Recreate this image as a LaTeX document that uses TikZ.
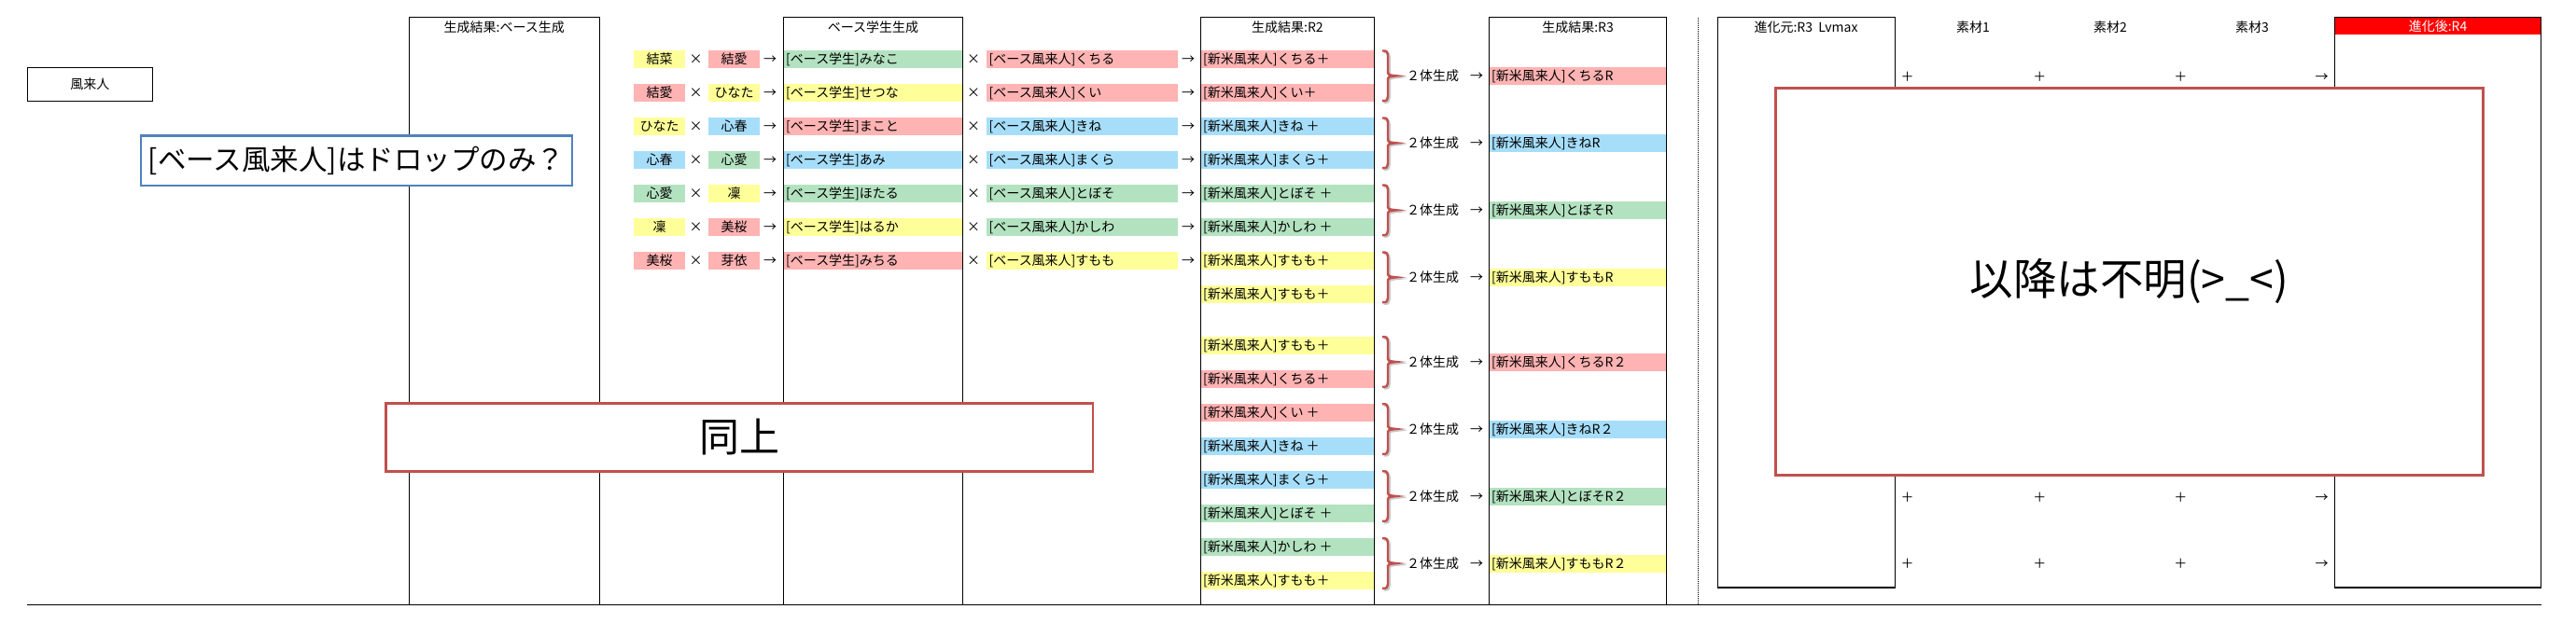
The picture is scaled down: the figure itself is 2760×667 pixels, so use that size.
\documentclass[tikz,border=0pt]{standalone}
\usepackage{fontspec}
\setmainfont{Noto Sans CJK JP}
\definecolor{cY}{HTML}{FFFF99}
\definecolor{cP}{HTML}{FFB3B3}
\definecolor{cB}{HTML}{A6DEFA}
\definecolor{cG}{HTML}{B3E2C0}
\definecolor{accR}{HTML}{C0504D}
\definecolor{accB}{HTML}{4F81BD}
\begin{document}
\begin{tikzpicture}[x=1pt,y=-1pt,
  txt/.style={font=\fontsize{14}{16}\selectfont, inner sep=0pt, text height=12.3pt, text depth=1.7pt},
  wtxt/.style={txt, text=white},
  barbox/.style={minimum height=19pt, inner sep=0pt, draw=none, anchor=west},
  sbox/.style={minimum height=19pt, minimum width=55pt, inner sep=0pt, draw=none},
  colbox/.style={draw=black, line width=1.1pt},
  bigbox/.style={line width=2.5pt, fill=white, inner sep=0pt},
]
\useasboundingbox (0,0) rectangle (2760,667);

% ---------- left label
\node[draw=black, line width=1.1pt, minimum width=133.9pt, minimum height=36pt, txt] (fr) at (96.45,90.3) {風来人};

% ---------- rows of the first part
\foreach \i/\ca/\ta/\cb/\tb/\cs/\ts/\cf/\tf in {
 0/Y/結菜/P/結愛/G/みなこ/P/くちる,
 1/P/結愛/Y/ひなた/Y/せつな/P/くい,
 2/Y/ひなた/B/心春/P/まこと/B/きね,
 3/B/心春/G/心愛/B/あみ/B/まくら,
 4/G/心愛/Y/凜/G/ほたる/G/とぼそ,
 5/Y/凜/P/美桜/Y/はるか/G/かしわ,
 6/P/美桜/P/芽依/P/みちる/Y/すもも}{
  \pgfmathsetmacro\yy{63.3+36*\i}
  \node[sbox, fill=c\ca] (a\i) at (706.5,\yy) {};
  \node[txt] (at\i) at (a\i) {\ta};
  \node[txt] (xa\i) at (745.7,\yy) {×};
  \node[sbox, fill=c\cb] (b\i) at (786.5,\yy) {};
  \node[txt] (bt\i) at (b\i) {\tb};
  \node[txt] (ra\i) at (825,\yy) {→};
  \node[barbox, fill=c\cs, minimum width=192pt] (s\i) at (839.5,\yy) {};
  \node[txt, anchor=west] (st\i) at ([xshift=2.5pt]s\i.west) {[ベース学生]\ts};
  \node[txt] (xb\i) at (1043,\yy) {×};
  \node[barbox, fill=c\cf, minimum width=204.5pt] (f\i) at (1057,\yy) {};
  \node[txt, anchor=west] (ft\i) at ([xshift=2.5pt]f\i.west) {[ベース風来人]\tf};
  \node[txt] (rb\i) at (1273,\yy) {→};
}

% ---------- R2 column bars
\foreach \k/\c/\t in {
 0/P/くちる＋, 1/P/くい＋, 2/B/きね ＋, 3/B/まくら＋, 4/G/とぼそ ＋, 5/G/かしわ ＋, 6/Y/すもも＋, 7/Y/すもも＋,
 8/Y/すもも＋, 9/P/くちる＋, 10/P/くい ＋, 11/B/きね ＋, 12/B/まくら＋, 13/G/とぼそ ＋, 14/G/かしわ ＋, 15/Y/すもも＋}{
  \pgfmathsetmacro\yy{\k<8 ? 63.3+36*\k : 370+36*(\k-8)}
  \node[barbox, fill=c\c, minimum width=186pt] (r\k) at (1286.4,\yy) {};
  \node[txt, anchor=west] (rt\k) at ([xshift=2.5pt]r\k.west) {[新米風来人]\t};
}

% ---------- braces, 2体生成, R3 bars
\foreach \g/\c/\t in {0/P/くちるR, 1/B/きねR, 2/G/とぼそR, 3/Y/すももR,
  4/P/くちるR２, 5/B/きねR２, 6/G/とぼそR２, 7/Y/すももR２}{
  \pgfmathsetmacro\ym{\g<4 ? 81.3+72*\g : 388+72*(\g-4)}
  \pgfmathsetmacro\yt{\ym-26.8}
  \pgfmathsetmacro\yb{\ym+26.8}
  \foreach \sh/\cl in {1.6/black!22, 0/accR}{
    \draw[line width=2.4pt, draw=\cl, shift={(\sh,\sh)}]
      (1481,\yt) .. controls (1486,\yt) .. (1487,\yt+5) -- (1487,\ym-5)
      .. controls (1487,\ym-1) .. (1496,\ym)
      .. controls (1487,\ym+1) .. (1487,\ym+5) -- (1487,\yb-5)
      .. controls (1486,\yb) .. (1481,\yb);
  }
  \node[txt] (gen\g) at (1535,\ym) {２体生成};
  \node[txt] (rc\g) at (1582,\ym) {→};
  \node[barbox, fill=c\c, minimum width=190.2pt] (q\g) at (1595.5,\ym) {};
  \node[txt, anchor=west] (qt\g) at ([xshift=2.5pt]q\g.west) {[新米風来人]\t};
}

% ---------- columns
\draw[colbox] (438.3,18.3) rectangle (642.3,648.3);
\node[txt] (t1) at (540.3,29.5) {生成結果:ベース生成};
\draw[colbox] (839.5,18.3) rectangle (1031.5,648.3);
\node[txt] (t2) at (935.5,29.5) {ベース学生生成};
\draw[colbox] (1286.4,18.3) rectangle (1472.3,648.3);
\node[txt] (t3) at (1379.4,29.5) {生成結果:R2};
\draw[colbox] (1595.5,18.3) rectangle (1785.7,648.3);
\node[txt] (t4) at (1690.6,29.5) {生成結果:R3};

% ---------- separator and baseline
\coordinate (d1) at (1819.3,19);
\coordinate (d2) at (1819.3,648.3);
\draw[line width=0.9pt, dash pattern=on 1pt off 1pt] (d1) -- (d2);
\coordinate (b1) at (29.3,648.3);
\coordinate (b2) at (2722.7,648.3);
\draw[line width=1.1pt] (b1) -- (b2);

% ---------- evolution part
\draw[colbox] (1840.3,18.3) rectangle (2030.3,630);
\node[txt] (e0) at (1935,29.5) {進化元:R3\ \ Lvmax};
\node[txt] (e1) at (2114,29.5) {素材1};
\node[txt] (e2) at (2261,29.5) {素材2};
\node[txt] (e3) at (2413,29.5) {素材3};
\fill[red] (2501.3,18.3) rectangle (2722.7,36.7);
\draw[colbox] (2501.3,18.3) rectangle (2722.7,630);
\node[wtxt] (e4) at (2612,28) {進化後:R4};
\foreach \j/\yy in {0/82.3, 1/532.7, 2/604.3}{
  \node[txt] (p1\j) at (2043.7,\yy) {＋};
  \node[txt] (p2\j) at (2185.3,\yy) {＋};
  \node[txt] (p3\j) at (2336.3,\yy) {＋};
  \node[txt] (pa\j) at (2487.7,\yy) {→};
}

% ---------- overlay boxes
\node[bigbox, draw=accB, minimum width=462pt, minimum height=53.3pt, font=\fontsize{30.5}{34}\selectfont] (drop) at (382,172.35) {[ベース風来人]はドロップのみ？};
\node[bigbox, draw=accR, minimum width=757.3pt, minimum height=73pt, font=\fontsize{43}{47}\selectfont] (same) at (792.35,468.8) {同上};
\node[bigbox, draw=accR, minimum width=758pt, minimum height=415pt, font=\fontsize{46.5}{50}\selectfont] (unk) at (2281.3,301.8) {以降は不明(>\_<)};
\end{tikzpicture}
\end{document}
